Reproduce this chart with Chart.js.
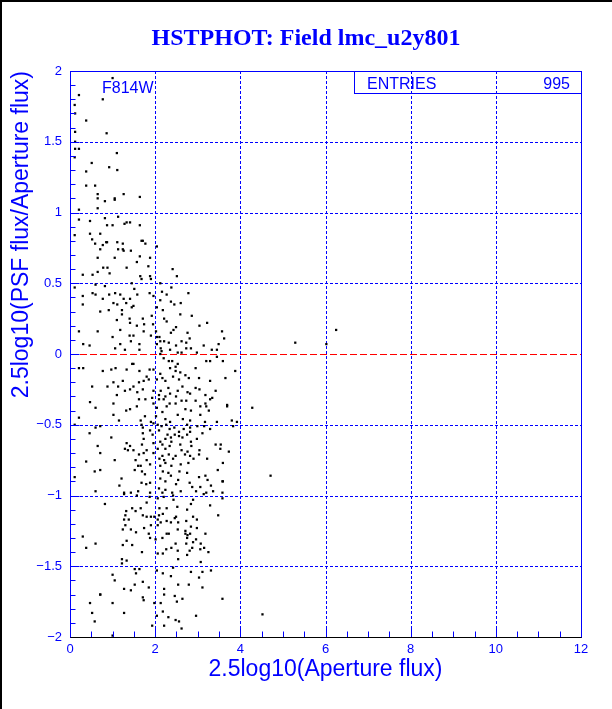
<!DOCTYPE html>
<html>
<head>
<meta charset="utf-8">
<script src="https://cdn.jsdelivr.net/npm/chart.js@4.4.0/dist/chart.umd.min.js"></script>
<style>
  html, body { margin: 0; padding: 0; background: #fff; }
  canvas { display: block; }
</style>
</head>
<body>
<canvas id="chart" width="612" height="709"></canvas>
<script>
// values
const titleText = 'HSTPHOT: Field lmc_u2y801';
const filterLabel = 'F814W';
const entries = 995;
const xTicks = [0, 2, 4, 6, 8, 10, 12];
const yTicks = [-2, -1.5, -1, -0.5, 0, 0.5, 1, 1.5, 2];
const xGrid = [2, 4, 6, 8, 10];
const yGrid = [-1.5, -1, -0.5, 0.5, 1, 1.5];
const zeroLine = 0;

// y > 0.66
const upperPoints = [
  [1.00,1.95],[0.21,1.83],[0.77,1.80],[0.11,1.76],[0.12,1.70],[0.38,1.65],[0.12,1.57],[0.86,1.56],
  [0.12,1.50],[0.12,1.45],[0.21,1.45],[1.10,1.42],[0.11,1.39],[0.51,1.35],[0.92,1.32],[1.11,1.30],
  [0.38,1.29],[0.38,1.19],[0.59,1.19],[1.26,1.13],[0.65,1.13],[0.65,1.10],[1.05,1.10],[1.05,1.09],
  [1.64,1.11],[0.82,1.08],[0.21,1.02],[0.65,1.03],[0.21,0.95],[0.47,0.94],[0.82,0.96],[1.13,0.97],
  [0.87,0.91],[1.00,0.91],[1.28,0.92],[1.33,0.93],[1.41,0.93],[1.64,0.91],[0.11,0.84],[0.47,0.85],
  [0.71,0.85],[0.52,0.81],[0.59,0.78],[0.85,0.79],[0.87,0.79],[0.77,0.77],[1.11,0.79],[1.24,0.78],
  [1.68,0.80],[1.71,0.80],[1.77,0.78],[2.04,0.76],[0.71,0.74],[1.13,0.74],[1.24,0.74],[1.26,0.73],
  [1.43,0.73],[1.64,0.69],[1.88,0.68],[0.65,0.68],[1.05,0.68]
];

// 0.66 > y > -0.15
const midUpperPoints = [
  [0.30,0.56],[0.53,0.56],[0.65,0.58],[0.60,0.49],[0.11,0.47],[0.30,0.41],[0.53,0.43],[0.60,0.42],
  [0.30,0.35],[0.21,0.16],[0.65,0.16],[0.31,0.07],[0.46,0.06],[0.21,-0.10],[0.31,-0.10],
  [0.88,0.61],[0.78,0.61],[0.93,0.57],[1.33,0.61],[1.57,0.65],[1.84,0.62],[2.41,0.60],[1.65,0.55],
  [1.68,0.53],[1.88,0.55],[1.90,0.53],[2.51,0.55],[1.45,0.50],[0.82,0.48],[2.12,0.50],[2.38,0.47],
  [1.51,0.46],[1.06,0.43],[0.92,0.42],[1.18,0.42],[1.58,0.42],[1.87,0.43],[1.96,0.41],[2.16,0.44],
  [2.27,0.42],[2.78,0.43],[0.77,0.39],[1.26,0.39],[1.41,0.39],[2.12,0.38],[2.37,0.37],[1.02,0.36],
  [1.11,0.35],[1.32,0.36],[1.49,0.34],[2.60,0.36],[0.91,0.31],[1.22,0.31],[1.45,0.33],[2.04,0.33],
  [2.18,0.31],[2.45,0.35],[0.71,0.30],[1.22,0.28],[1.92,0.27],[2.59,0.28],[2.86,0.27],[1.10,0.24],
  [1.40,0.25],[1.71,0.25],[2.21,0.25],[2.27,0.23],[3.22,0.22],[1.41,0.22],[1.74,0.21],[1.95,0.21],
  [2.49,0.19],[3.04,0.20],[2.43,0.17],[1.57,0.20],[1.18,0.17],[1.73,0.16],[2.02,0.16],[2.37,0.15],
  [2.76,0.15],[3.57,0.16],[1.40,0.13],[1.49,0.13],[1.90,0.13],[1.00,0.12],[2.04,0.12],[2.10,0.12],
  [2.62,0.09],[2.73,0.08],[2.81,0.11],[3.62,0.11],[1.43,0.09],[2.12,0.09],[2.21,0.09],[2.32,0.08],
  [1.18,0.07],[1.63,0.07],[2.04,0.07],[2.49,0.06],[3.14,0.06],[3.49,0.07],[1.06,0.04],[1.63,0.03],
  [2.13,0.04],[2.35,0.03],[2.73,0.04],[2.84,0.04],[3.33,0.03],[3.45,0.03],[1.29,0.03],[2.15,0.02],
  [2.53,0.01],[2.62,0.01],[2.98,0.01],[2.12,0.00],
  [2.20,-0.03],[2.32,-0.05],[2.40,-0.05],[3.45,-0.02],[3.20,-0.05],[3.29,-0.05],[3.59,-0.05],
  [2.53,-0.07],[1.49,-0.07],[0.77,-0.12],[0.97,-0.11],[1.07,-0.10],[1.33,-0.11],[1.46,-0.07],
  [1.63,-0.12],[1.87,-0.11],[1.96,-0.11],[2.35,-0.10],[2.48,-0.09],[2.48,-0.12],[2.59,-0.13],
  [2.71,-0.15],[2.95,-0.10],[3.88,-0.12],[2.12,-0.14]
];

// -0.15 > y > -0.97
const midLowerPoints = [
  [1.62,-0.20],[1.73,-0.19],[1.80,-0.16],[1.85,-0.18],[2.04,-0.18],[2.17,-0.17],[2.24,-0.19],
  [2.42,-0.16],[2.56,-0.18],[2.79,-0.17],[3.03,-0.17],[3.65,-0.17],[1.24,-0.19],[3.29,-0.19],
  [1.02,-0.20],[0.88,-0.23],[1.13,-0.23],[1.49,-0.23],[1.71,-0.25],[1.96,-0.26],[2.13,-0.26],
  [2.31,-0.24],[2.53,-0.26],[2.64,-0.23],[2.76,-0.27],[2.95,-0.24],[3.04,-0.25],[3.42,-0.26],
  [1.10,-0.29],[1.29,-0.26],[1.41,-0.25],[1.58,-0.27],[2.09,-0.29],[2.24,-0.30],[2.35,-0.28],
  [2.49,-0.30],[2.82,-0.28],[3.18,-0.29],[1.62,-0.32],[1.77,-0.32],[1.93,-0.31],[2.09,-0.32],
  [2.20,-0.32],[2.62,-0.33],[2.73,-0.33],[2.95,-0.33],[3.29,-0.32],[3.34,-0.31],[1.02,-0.35],
  [1.96,-0.35],[2.34,-0.35],[2.48,-0.35],[3.18,-0.35],[3.20,-0.37],[3.69,-0.37],[3.69,-0.36],
  [1.57,-0.37],[2.04,-0.38],[2.27,-0.37],[2.71,-0.39],[2.84,-0.40],[3.06,-0.37],[3.26,-0.40],
  [1.32,-0.40],[1.41,-0.39],[2.17,-0.41],[1.02,-0.43],[1.76,-0.44],[2.02,-0.44],[2.53,-0.43],
  [3.06,-0.43],[2.24,-0.46],[2.35,-0.48],[2.65,-0.46],[2.82,-0.47],[3.17,-0.48],[3.45,-0.48],
  [3.80,-0.47],[3.92,-0.48],[1.66,-0.47],[1.90,-0.48],[1.96,-0.49],[1.68,-0.50],[1.15,-0.47],
  [2.06,-0.50],[2.15,-0.51],[2.26,-0.50],[2.45,-0.52],[2.75,-0.50],[2.82,-0.52],[2.99,-0.51],
  [3.15,-0.51],[3.83,-0.51],[1.71,-0.52],[0.71,-0.51],[1.88,-0.54],[2.09,-0.54],[2.34,-0.53],
  [2.56,-0.55],[2.67,-0.53],[2.82,-0.55],[3.29,-0.53],[1.94,-0.57],[2.29,-0.57],[2.46,-0.57],
  [2.56,-0.58],[2.75,-0.57],[3.11,-0.56],[1.71,-0.56],[0.97,-0.59],[2.24,-0.60],[2.37,-0.59],
  [2.64,-0.59],[2.12,-0.62],[2.38,-0.62],[2.84,-0.62],[2.98,-0.60],[1.73,-0.60],[1.33,-0.63],
  [1.96,-0.63],[2.17,-0.64],[2.34,-0.65],[2.59,-0.64],[2.85,-0.65],[3.42,-0.64],[3.54,-0.64],
  [1.69,-0.64],[1.41,-0.65],[1.29,-0.67],[1.36,-0.68],[1.49,-0.68],[1.80,-0.68],[2.06,-0.67],
  [2.24,-0.67],[2.62,-0.68],[2.76,-0.69],[3.04,-0.68],[3.53,-0.67],[0.71,-0.70],[1.62,-0.71],
  [1.73,-0.70],[1.96,-0.70],[2.17,-0.72],[2.32,-0.71],[2.48,-0.72],[2.70,-0.71],[2.82,-0.72],
  [3.03,-0.71],[2.10,-0.74],[2.21,-0.75],[2.42,-0.74],[2.90,-0.74],[3.22,-0.74],[1.05,-0.75],
  [1.54,-0.75],[1.80,-0.75],[2.24,-0.77],[2.60,-0.78],[2.78,-0.77],[1.66,-0.79],[1.88,-0.78],
  [2.12,-0.79],[2.38,-0.79],[1.60,-0.79],[3.47,-0.82],[1.69,-0.83],[1.52,-0.82],[2.18,-0.83],
  [2.31,-0.84],[2.57,-0.83],[2.75,-0.84],[1.76,-0.85],[3.18,-0.86],[3.23,-0.89],[3.03,-0.87],
  [1.21,-0.88],[1.16,-0.93],[2.12,-0.88],[2.37,-0.86],[2.54,-0.89],[2.24,-0.90],[1.68,-0.91],
  [1.88,-0.91],[2.81,-0.91],[2.49,-0.92],[2.87,-0.94],[3.06,-0.94],[3.31,-0.93],[3.58,-0.90],
  [1.79,-0.92],[2.09,-0.95],[2.24,-0.96],[1.27,-0.98],[1.43,-0.98],[1.60,-0.97],[1.88,-0.98],
  [2.40,-0.98],[2.60,-0.97],[2.96,-0.97],[3.20,-0.98],[3.36,-0.97],
  [0.11,-0.50],[0.21,-0.45],[0.47,-0.34],[0.52,-0.23],[0.60,-0.38],[0.60,-0.52],[0.46,-0.56],
  [0.65,-0.65],[0.38,-0.76],[0.58,-0.83],[0.71,-0.82],[0.11,-0.87],[0.60,-0.97]
];

// y < -0.97
const lowerPoints = [
  [1.27,-0.99],[1.57,-1.00],[1.87,-1.01],[2.17,-0.98],[2.42,-1.00],[3.58,-0.98],[3.58,-1.02],
  [3.14,-0.99],[0.82,-1.06],[1.80,-1.05],[2.06,-1.02],[2.20,-1.01],[2.43,-1.03],[2.89,-1.03],
  [1.46,-1.09],[1.66,-1.09],[2.10,-1.09],[2.27,-1.09],[2.52,-1.08],[2.75,-1.10],[2.84,-1.06],
  [3.29,-1.07],[1.32,-1.11],[1.54,-1.11],[1.30,-1.14],[1.71,-1.14],[1.80,-1.15],[1.90,-1.15],
  [1.98,-1.15],[2.09,-1.14],[2.18,-1.13],[2.49,-1.15],[2.89,-1.15],[3.48,-1.14],[1.27,-1.17],
  [1.38,-1.17],[2.06,-1.17],[2.27,-1.18],[2.46,-1.16],[2.73,-1.18],[2.98,-1.17],[2.37,-1.19],
  [2.13,-1.19],[1.30,-1.21],[1.90,-1.21],[2.06,-1.21],[2.54,-1.19],[1.74,-1.23],[2.84,-1.22],
  [2.98,-1.23],[2.53,-1.24],[1.24,-1.24],[1.43,-1.24],[1.55,-1.26],[2.71,-1.25],[2.27,-1.27],
  [2.32,-1.27],[2.71,-1.27],[2.76,-1.28],[2.82,-1.27],[3.18,-1.27],[1.85,-1.27],[1.88,-1.30],
  [2.01,-1.31],[2.17,-1.30],[2.75,-1.30],[2.96,-1.31],[1.33,-1.32],[2.48,-1.34],[2.73,-1.34],
  [2.89,-1.33],[3.07,-1.34],[1.24,-1.35],[1.46,-1.35],[3.15,-1.37],[2.26,-1.38],[2.38,-1.37],
  [2.53,-1.39],[2.81,-1.39],[2.87,-1.37],[3.06,-1.38],[3.25,-1.40],[1.69,-1.40],[2.06,-1.41],
  [2.18,-1.41],[2.75,-1.42],[1.22,-1.45],[1.22,-1.48],[1.33,-1.46],[2.54,-1.45],[3.07,-1.47],
  [1.52,-1.52],[1.63,-1.52],[2.04,-1.53],[2.42,-1.51],[2.84,-1.54],[3.11,-1.54],[3.31,-1.53],
  [1.55,-1.55],[2.18,-1.55],[1.00,-1.56],[2.37,-1.57],[3.03,-1.58],[1.05,-1.60],[1.71,-1.61],
  [2.79,-1.63],[2.54,-1.63],[1.52,-1.63],[1.85,-1.65],[2.21,-1.66],[3.11,-1.65],[1.27,-1.66],
  [1.43,-1.67],[0.71,-1.70],[1.71,-1.72],[1.73,-1.74],[2.46,-1.71],[2.64,-1.73],[3.58,-1.73],
  [2.21,-1.70],[2.51,-1.75],[1.00,-1.76],[1.98,-1.76],[2.13,-1.76],[1.27,-1.83],[2.04,-1.85],
  [2.18,-1.82],[2.31,-1.86],[2.48,-1.88],[2.96,-1.85],[2.56,-1.89],[1.93,-1.92],[2.21,-1.92],
  [2.62,-1.94],[1.00,-1.99],
  [0.30,-1.29],[0.38,-1.37],[0.60,-1.34],[0.71,-1.70],[0.47,-1.76],[0.52,-1.83],[0.58,-1.89]
];

// isolated points on the bright side
const outlierPoints = [
  [6.25,0.17],[5.29,0.08],[6.02,0.07],[4.28,-0.38],[4.71,-0.86],[3.73,-0.69],[3.59,-0.77],
  [3.59,-0.90],[4.52,-1.84]
];

const BLUE = '#0000ff';
const RED = '#ff0000';
const FONT = '"Liberation Sans", Arial, sans-serif';

function toXY(list) {
  return list.map(p => ({ x: p[0], y: p[1] }));
}

const points = [].concat(
  toXY(upperPoints), toXY(midUpperPoints), toXY(midLowerPoints),
  toXY(lowerPoints), toXY(outlierPoints)
);

function fmt(v) {
  return (v < 0 ? '\u2212' : '') + Math.abs(v);
}

const rootFrame = {
  id: 'rootFrame',
  beforeDatasetsDraw(chart) {
    const { ctx, chartArea: a, scales: { x, y } } = chart;
    ctx.save();
    ctx.lineWidth = 1;
    ctx.strokeStyle = BLUE;
    ctx.setLineDash([3, 2]);
    xGrid.forEach(v => {
      const px = Math.round(x.getPixelForValue(v)) + 0.5;
      ctx.beginPath(); ctx.moveTo(px, a.top); ctx.lineTo(px, a.bottom); ctx.stroke();
    });
    yGrid.forEach(v => {
      const py = Math.round(y.getPixelForValue(v)) + 0.5;
      ctx.beginPath(); ctx.moveTo(a.left, py); ctx.lineTo(a.right, py); ctx.stroke();
    });
    ctx.strokeStyle = RED;
    ctx.setLineDash([7, 3]);
    const pz = Math.round(y.getPixelForValue(zeroLine)) + 0.5;
    ctx.beginPath(); ctx.moveTo(a.left, pz); ctx.lineTo(a.right, pz); ctx.stroke();
    ctx.restore();
  },
  afterDatasetsDraw(chart) {
    const { ctx, chartArea: a, scales: { x, y } } = chart;
    ctx.save();
    ctx.setLineDash([]);
    ctx.lineWidth = 1;
    ctx.strokeStyle = BLUE;
    const L = Math.round(a.left) + 0.5, R = Math.round(a.right) + 0.5;
    const T = Math.round(a.top) + 0.5, B = Math.round(a.bottom) + 0.5;
    ctx.strokeRect(L, T, R - L, B - T);

    // inward ticks
    ctx.beginPath();
    for (let v = x.min; v <= x.max + 1e-9; v += 0.5) {
      const px = Math.round(x.getPixelForValue(v)) + 0.5;
      const len = Math.abs(v % 2) < 1e-9 ? 10 : 6;
      ctx.moveTo(px, B); ctx.lineTo(px, B - len);
    }
    for (let i = 0; i <= 40; i++) {
      const v = y.min + i * 0.1;
      const py = Math.round(y.getPixelForValue(v)) + 0.5;
      const len = i % 5 === 0 ? 9 : 5;
      ctx.moveTo(L, py); ctx.lineTo(L + len, py);
    }
    ctx.stroke();

    ctx.strokeStyle = '#000';
    ctx.beginPath(); ctx.moveTo(L, B); ctx.lineTo(R, B); ctx.stroke();

    // stats box
    ctx.strokeStyle = BLUE;
    ctx.strokeRect(354.5, T, R - 354.5, 22);
    ctx.fillStyle = BLUE;
    ctx.font = '16px ' + FONT;
    ctx.textBaseline = 'alphabetic';
    ctx.textAlign = 'left';
    ctx.fillText('ENTRIES', 367, 89);
    ctx.textAlign = 'right';
    ctx.fillText(String(entries), 570, 89);
    ctx.textAlign = 'left';
    ctx.fillText(filterLabel, 102, 93);

    // canvas border
    ctx.fillStyle = '#000';
    ctx.fillRect(0, 0, chart.width, 2);
    ctx.fillRect(0, 0, 2, chart.height);
    ctx.restore();
  }
};

Chart.defaults.font.family = FONT;
Chart.defaults.color = BLUE;

new Chart(document.getElementById('chart'), {
  type: 'scatter',
  data: {
    datasets: [{
      data: points,
      pointStyle: 'rect',
      pointRadius: 1.6,
      pointBorderWidth: 0,
      backgroundColor: '#000',
      borderColor: '#000'
    }]
  },
  options: {
    responsive: false,
    animation: false,
    devicePixelRatio: 1,
    layout: { padding: 0 },
    plugins: {
      legend: { display: false },
      tooltip: { enabled: false },
      title: {
        display: true,
        text: titleText,
        color: BLUE,
        font: { family: '"Liberation Serif", "Times New Roman", serif', size: 24, weight: 'bold' },
        padding: { top: 24, bottom: 18.2 }
      }
    },
    scales: {
      x: {
        type: 'linear',
        min: 0,
        max: 12,
        afterBuildTicks: s => { s.ticks = xTicks.map(v => ({ value: v })); },
        afterFit: s => { s.height = 72; },
        grid: { display: false, drawTicks: false },
        border: { display: false },
        ticks: { font: { size: 13 }, padding: 5, maxRotation: 0, callback: v => fmt(v) },
        title: {
          display: true,
          text: '2.5log10(Aperture flux)',
          font: { size: 23 },
          padding: { top: 0, bottom: 26 }
        }
      },
      y: {
        type: 'linear',
        min: -2,
        max: 2,
        afterBuildTicks: s => { s.ticks = yTicks.map(v => ({ value: v })); },
        afterFit: s => { s.width = 70; },
        grid: { display: false, drawTicks: false },
        border: { display: false },
        ticks: { font: { size: 13 }, padding: 8, callback: v => fmt(v) },
        title: {
          display: true,
          text: '2.5log10(PSF flux/Aperture flux)',
          align: 'end',
          font: { size: 23 },
          padding: { top: 8, bottom: 0 }
        }
      },
      // empty right-hand axis that only keeps the margin beside the frame
      yRight: {
        type: 'linear',
        position: 'right',
        min: -2,
        max: 2,
        afterFit: s => { s.width = 31; },
        grid: { display: false, drawTicks: false },
        border: { display: false },
        ticks: { display: false }
      }
    }
  },
  plugins: [rootFrame]
});
</script>
</body>
</html>
